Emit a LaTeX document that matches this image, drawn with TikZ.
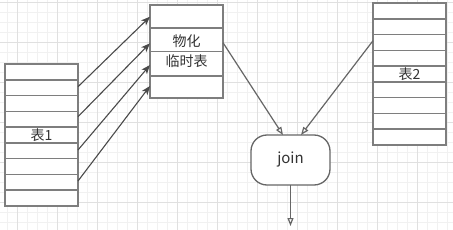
\documentclass[tikz,border=0pt]{standalone}
\usepackage{fontspec}
\setmainfont{Noto Sans CJK SC}
\usetikzlibrary{arrows.meta,calc}
\definecolor{gridminor}{HTML}{F1F1F1}
\definecolor{gridmajor}{HTML}{E0E0E0}
\definecolor{boxline}{HTML}{7E7E7E}
\definecolor{arrowline}{HTML}{4A4A4A}
\definecolor{joinline}{HTML}{666666}
\begin{document}
\begin{tikzpicture}[x=1pt,y=-1pt,
  tablebox/.style={draw=boxline, line width=1.5pt, fill=white, minimum width=73pt,
    anchor=north west, inner sep=0pt, outer sep=0pt},
  rowline/.style={draw=boxline, line width=1.5pt},
  lbl/.style={font=\fontsize{14pt}{20pt}\selectfont, text=black!80, inner sep=0pt, align=center},
  fillarrow/.style={draw=arrowline, line width=1.1pt, -{Stealth[length=9pt,width=7pt,inset=2.5pt]}},
  openarrow/.style={draw=joinline, line width=1.2pt, -{Triangle[open,length=8pt,width=6pt]}},
  joinbox/.style={draw=joinline, line width=1.3pt, fill=white, rounded corners=16pt,
    minimum width=79pt, minimum height=50pt, inner sep=0pt, outer sep=0pt}]
\useasboundingbox (0,0) rectangle (453,230);
\fill[white] (0,0) rectangle (453,230);
% grid
\foreach \x in {7.3,17.3,...,453} \draw[gridminor, line width=0.8pt] (\x,0) -- (\x,230);
\foreach \y in {2.7,12.7,...,230} \draw[gridminor, line width=0.8pt] (0,\y) -- (453,\y);
\foreach \x in {17.3,57.3,...,453} \draw[gridmajor, line width=0.8pt] (\x,0) -- (\x,230);
\foreach \y in {2.7,42.7,...,230} \draw[gridmajor, line width=0.8pt] (0,\y) -- (453,\y);

% table 1
\node[tablebox, minimum height=142pt] (t1) at (5,64) {};
\foreach \i in {1,...,8}
  \draw[rowline] ($(t1.north west)+(0,\i*15.78)$) -- ($(t1.north east)+(0,\i*15.78)$);
\node[lbl] (t1lab) at (t1.center) {表1};

% temp table
\node[tablebox, minimum height=93pt] (tmp) at (150,5) {};
\foreach \d in {23,46.5,71}
  \draw[rowline] ($(tmp.north west)+(0,\d)$) -- ($(tmp.north east)+(0,\d)$);
\node[lbl] (tmplab) at (tmp.center) {物化\\临时表};

% table 2
\node[tablebox, minimum height=142pt] (t2) at (373,3) {};
\foreach \i in {1,...,8}
  \draw[rowline] ($(t2.north west)+(0,\i*15.78)$) -- ($(t2.north east)+(0,\i*15.78)$);
\node[lbl] (t2lab) at (t2.center) {表2};

% join
\node[joinbox, font=\fontsize{15pt}{18pt}\selectfont, text=black!80] (join) at (290.5,160) {join};
\coordinate (out) at (290.5,226);

% arrows table1 -> temp
\draw[fillarrow] ($(t1.north east)+(0,22.7)$) -- ($(tmp.north west)+(0,11.7)$);
\draw[fillarrow] ($(t1.north east)+(0,52.7)$) -- ($(tmp.north west)+(0,38.3)$);
\draw[fillarrow] ($(t1.north east)+(0,86)$) -- ($(tmp.north west)+(0,60)$);
\draw[fillarrow] ($(t1.north east)+(0,117)$) -- ($(tmp.north west)+(0,81)$);

% arrows into join
\draw[openarrow] ($(tmp.north east)+(0,37.7)$) -- ($(join.north)+(-7.5,0)$);
\draw[openarrow] ($(t2.north west)+(0,37.7)$) -- ($(join.north)+(10.5,0)$);
\draw[openarrow] (join.south) -- (out);
\end{tikzpicture}
\end{document}
